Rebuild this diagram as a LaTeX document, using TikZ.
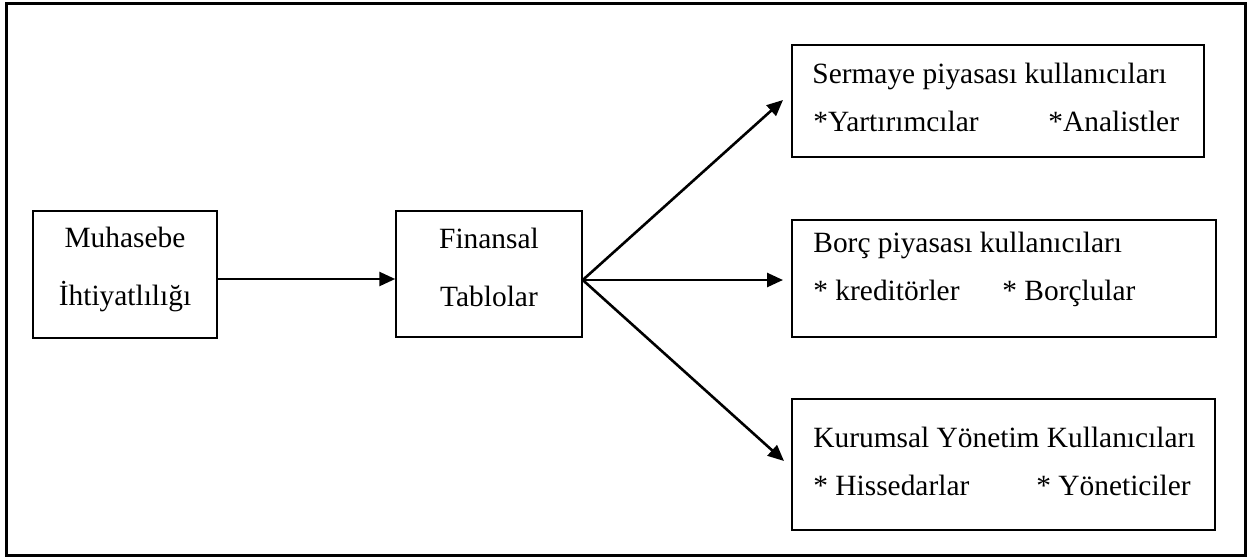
\documentclass[tikz,border=0pt]{standalone}
\usepackage{fontspec}
\setmainfont{Liberation Serif}
\usetikzlibrary{arrows.meta,calc}
\tikzset{
  box/.style={draw=black, line width=0.75pt, inner sep=0pt, rectangle},
  arr/.style={line width=1.3pt, -{Triangle[length=8pt,width=7pt]}},
  lbl/.style={inner sep=0pt, font=\fontsize{14.7}{17}\selectfont},
}
\begin{document}
\begin{tikzpicture}[x=0.5pt,y=-0.5pt]
\useasboundingbox (0,0) rectangle (1258,558);
\draw[line width=1.5pt] (6,3) rectangle (1245.5,555);
% boxes
\node[box, minimum width=92pt, minimum height=63.5pt] (m) at (125,274.5) {};
\node[box, minimum width=93pt, minimum height=63pt] (f) at (489,274) {};
\node[box, minimum width=206pt, minimum height=56pt] (a) at (998,101) {};
\node[box, minimum width=212pt, minimum height=58.5pt] (b) at (1004,278.5) {};
\node[box, minimum width=211.5pt, minimum height=65.5pt] (c) at (1003.5,464.5) {};
% texts
\node[lbl, anchor=base] (m1) at (125,247) {Muhasebe};
\node[lbl, anchor=base] (m2) at (125,305) {İhtiyatlılığı};
\node[lbl, anchor=base] (f1) at (489,248) {Finansal};
\node[lbl, anchor=base] (f2) at (489,306) {Tablolar};
\node[lbl, anchor=base west] (a1) at (812,83) {Sermaye piyasası kullanıcıları};
\node[lbl, anchor=base west] (a2) at (813,131) {*Yartırımcılar};
\node[lbl, anchor=base west] (a3) at (1048,131) {*Analistler};
\node[lbl, anchor=base west] (b1) at (813,252) {Borç piyasası kullanıcıları};
\node[lbl, anchor=base west] (b2) at (813,300) {* kreditörler};
\node[lbl, anchor=base west] (b3) at (1002,300) {* Borçlular};
\node[lbl, anchor=base west] (c1) at (813,447) {Kurumsal Yönetim Kullanıcıları};
\node[lbl, anchor=base west] (c2) at (813,495) {* Hissedarlar};
\node[lbl, anchor=base west] (c3) at (1036,495) {* Yöneticiler};
% connector ends
\coordinate (ta) at (783,100);
\coordinate (tb) at (783,280);
\coordinate (tc) at (784,461);
\draw[arr] ($(m.east)+(0,4.5)$) -- ($(f.west)+(0,5)$);
\draw[arr] ($(f.east)+(0,6)$) -- (ta);
\draw[arr] ($(f.east)+(0,6)$) -- (tb);
\draw[arr] ($(f.east)+(0,6)$) -- (tc);
\end{tikzpicture}
\end{document}
